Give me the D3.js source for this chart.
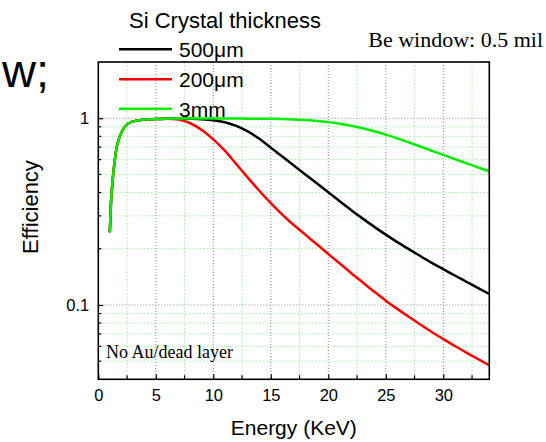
<!DOCTYPE html>
<html><head><meta charset="utf-8">
<script src="https://cdn.jsdelivr.net/npm/d3@7"></script>
<style>body{margin:0;background:#fff}svg{display:block}</style>
</head><body>
<script>
const energy = [1, 1.1, 1.2, 1.4, 1.6, 1.9, 2.3, 2.9, 3.8, 5, 6, 7, 8, 9, 10, 11, 12, 13, 14, 15, 16, 17, 18, 19, 20, 21, 22, 23, 24, 25, 26, 27, 28, 29, 30, 31, 32, 33, 34];
const eff500 = [0.245, 0.35, 0.43, 0.575, 0.70, 0.81, 0.90, 0.955, 0.98, 0.99, 0.995, 0.995, 0.993, 0.988, 0.976, 0.952, 0.91, 0.85, 0.776, 0.696, 0.623, 0.558, 0.500, 0.448, 0.401, 0.359, 0.322, 0.290, 0.262, 0.238, 0.217, 0.199, 0.183, 0.168, 0.1555, 0.1438, 0.1332, 0.1234, 0.1145];
const eff200 = [0.245, 0.35, 0.43, 0.575, 0.70, 0.81, 0.90, 0.955, 0.98, 0.99, 0.994, 0.985, 0.94, 0.865, 0.77, 0.67, 0.568, 0.481, 0.409, 0.351, 0.305, 0.268, 0.238, 0.2114, 0.1875, 0.1668, 0.148, 0.132, 0.1178, 0.1055, 0.0953, 0.0864, 0.0786, 0.0717, 0.0657, 0.0603, 0.0556, 0.0514, 0.0475];
const eff3mm = [0.245, 0.35, 0.43, 0.575, 0.70, 0.81, 0.90, 0.955, 0.98, 0.99, 0.995, 0.996, 0.996, 0.996, 0.996, 0.996, 0.996, 0.995, 0.994, 0.993, 0.990, 0.985, 0.977, 0.967, 0.953, 0.935, 0.912, 0.884, 0.852, 0.817, 0.780, 0.743, 0.706, 0.670, 0.636, 0.604, 0.574, 0.546, 0.519];
const seriesNames = ["500μm", "200μm", "3mm"];
const seriesColors = ["#000000", "#ff0000", "#00ee00"];
const xTicks = [0, 5, 10, 15, 20, 25, 30];
const xMinor = [2.5, 7.5, 12.5, 17.5, 22.5, 27.5, 32.5];
const yTicks = [0.1, 1];
const yTickLabels = ["0.1", "1"];
const yMinor = [0.05, 0.06, 0.07, 0.08, 0.09, 0.2, 0.3, 0.4, 0.5, 0.6, 0.7, 0.8, 0.9];

const W = 546, H = 442;
const L = 98.3, R = 489.3, T = 62, B = 379.3;
const svg = d3.select("body").append("svg").attr("width", W).attr("height", H);
const x = d3.scaleLinear().domain([0, 34]).range([L, R]);
const y = d3.scaleLog().domain([0.04, 2]).range([B, T]);

const grid = svg.append("g");
grid.selectAll(".vmin").data(xMinor).join("line")
  .attr("x1", d => x(d)).attr("x2", d => x(d)).attr("y1", T).attr("y2", B)
  .attr("stroke", "#9cf09c").attr("stroke-width", 1).attr("stroke-dasharray", "1.5,2");
grid.selectAll(".hmin").data(yMinor).join("line")
  .attr("y1", d => y(d)).attr("y2", d => y(d)).attr("x1", L).attr("x2", R)
  .attr("stroke", "#9cf09c").attr("stroke-width", 1).attr("stroke-dasharray", "1.5,2");
grid.selectAll(".vmaj").data(xTicks.filter(d => d > 0)).join("line")
  .attr("x1", d => x(d)).attr("x2", d => x(d)).attr("y1", T).attr("y2", B)
  .attr("stroke", "#888").attr("stroke-width", 1).attr("stroke-dasharray", "1,2");
grid.selectAll(".hmaj").data(yTicks).join("line")
  .attr("y1", d => y(d)).attr("y2", d => y(d)).attr("x1", L).attr("x2", R)
  .attr("stroke", "#888").attr("stroke-width", 1).attr("stroke-dasharray", "1,2");

// curves
const all = [eff500, eff200, eff3mm];
const line = d3.line().x(d => x(d[0])).y(d => y(d[1])).curve(d3.curveMonotoneX);
all.forEach((vals, i) => {
  svg.append("path").datum(energy.map((e, j) => [e, vals[j]]))
    .attr("d", line).attr("fill", "none").attr("stroke", seriesColors[i]).attr("stroke-width", 2.5);
});

// axes (ticks inward)
const xAxis = d3.axisBottom(x).tickValues(xTicks).tickSize(-5).tickPadding(10).tickFormat(d3.format("d"));
const gx = svg.append("g").attr("transform", `translate(0,${B})`).call(xAxis);
gx.append("g").selectAll("line").data(xMinor).join("line")
  .attr("x1", d => x(d)).attr("x2", d => x(d)).attr("y1", 0).attr("y2", -4).attr("stroke", "#000").attr("stroke-width", 1.2);
const yAxis = d3.axisLeft(y).tickValues(yTicks).tickSize(-5).tickPadding(9).tickFormat((d, i) => yTickLabels[i]);
const gy = svg.append("g").attr("transform", `translate(${L},0)`).call(yAxis);
gy.append("g").selectAll("line").data(yMinor).join("line")
  .attr("y1", d => y(d)).attr("y2", d => y(d)).attr("x1", 0).attr("x2", 3).attr("stroke", "#000").attr("stroke-width", 1.2);
[gx, gy].forEach(g => {
  g.select(".domain").remove();
  g.selectAll(".tick line").attr("stroke", "#000").attr("stroke-width", 1.2);
  g.selectAll(".tick text").attr("font-family", "Liberation Sans, Arial, sans-serif").attr("font-size", 16.5).attr("fill", "#000");
});
svg.append("rect").attr("x", L).attr("y", T).attr("width", R - L).attr("height", B - T)
  .attr("fill", "none").attr("stroke", "#000").attr("stroke-width", 1.6);

// axis titles
svg.append("text").attr("x", (L + R) / 2).attr("y", 435).attr("text-anchor", "middle")
  .attr("font-family", "Liberation Sans, Arial, sans-serif").attr("font-size", 21).text("Energy (KeV)");
svg.append("text").attr("transform", "translate(38,207) rotate(-90)").attr("text-anchor", "middle")
  .attr("font-family", "Liberation Sans, Arial, sans-serif").attr("font-size", 22).text("Efficiency");

// legend
svg.append("text").attr("x", 129).attr("y", 27.5)
  .attr("font-family", "Liberation Sans, Arial, sans-serif").attr("font-size", 22).text("Si Crystal thickness");
const legY = [49.3, 79.3, 108.8];
seriesNames.forEach((n, i) => {
  svg.append("line").attr("x1", 119).attr("x2", 172).attr("y1", legY[i]).attr("y2", legY[i])
    .attr("stroke", seriesColors[i]).attr("stroke-width", 2.5);
  svg.append("text").attr("x", 179).attr("y", legY[i] + 8)
    .attr("font-family", "Liberation Sans, Arial, sans-serif").attr("font-size", 21).text(n);
});

// annotations
svg.append("text").attr("x", 543).attr("y", 46.7).attr("text-anchor", "end")
  .attr("font-family", "Liberation Serif, Times New Roman, serif").attr("font-size", 22).text("Be window: 0.5 mil");
svg.append("text").attr("x", 106).attr("y", 358.3)
  .attr("font-family", "Liberation Serif, Times New Roman, serif").attr("font-size", 18).text("No Au/dead layer");
svg.append("text").attr("x", 2).attr("y", 87).attr("text-anchor", "start")
  .attr("font-family", "Liberation Sans, Arial, sans-serif").attr("font-size", 47).text("w;");
</script>
</body></html>
